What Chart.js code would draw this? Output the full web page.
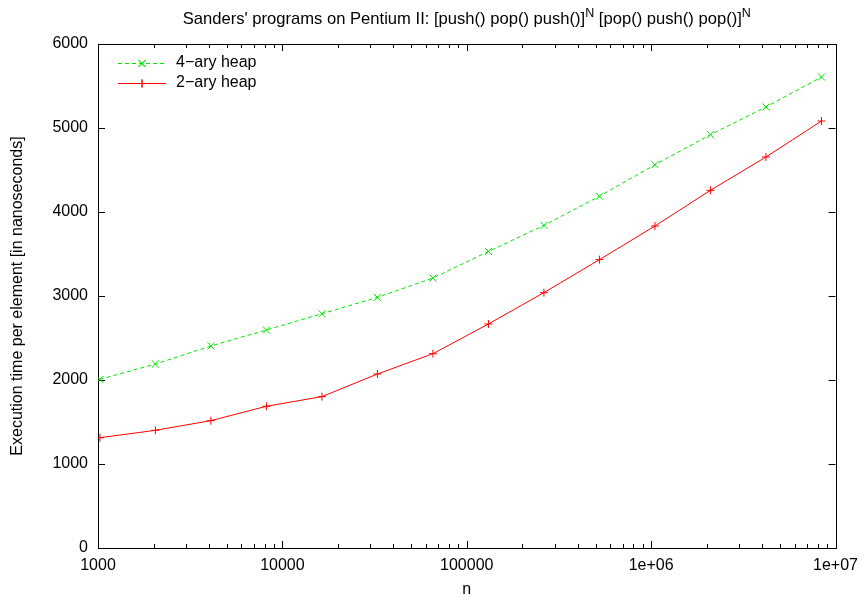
<!DOCTYPE html>
<html>
<head>
<meta charset="utf-8">
<title>Sanders' programs on Pentium II</title>
<script src="https://cdn.jsdelivr.net/npm/chart.js@4/dist/chart.umd.min.js"></script>
<style>
  html, body { margin: 0; padding: 0; background: #fff; }
  canvas { display: block; }
</style>
</head>
<body>
<canvas id="heapChart" width="866" height="603"></canvas>
<script>
// problem sizes n (powers of two from 1024)
const nValues = [1024, 2048, 4096, 8192, 16384, 32768, 65536, 131072, 262144, 524288, 1048576, 2097152, 4194304, 8388608];
// execution time per element in ns
const fourAryHeap = [2008, 2190, 2405, 2595, 2789, 2984, 3214, 3530, 3841, 4187, 4563, 4921, 5250, 5607];
const twoAryHeap = [1313, 1401, 1516, 1687, 1802, 2071, 2313, 2667, 3040, 3433, 3833, 4258, 4655, 5083];

const xMajorTicks = [1000, 10000, 100000, 1000000, 10000000];
const xTickLabels = ['1000', '10000', '100000', '1e+06', '1e+07'];
const yTickValues = [0, 1000, 2000, 3000, 4000, 5000, 6000];

const titleParts = [
    { text: "Sanders' programs on Pentium II: [push() pop() push()]", sup: false },
    { text: 'N', sup: true },
    { text: ' [pop() push() pop()]', sup: false },
    { text: 'N', sup: true }
];
const yAxisTitle = 'Execution time per element [in nanoseconds]';
const xAxisTitle = 'n';
const seriesNames = ['4\u2212ary heap', '2\u2212ary heap'];

const FONT = '"Liberation Sans", Arial, Helvetica, sans-serif';
const GREEN = '#00e600';
const RED = '#ff0000';

// gnuplot-like frame, inward ticks, titles and key
const gnuplotDecor = {
    id: 'gnuplotDecor',
    beforeDatasetsDraw(chart) {
        const { ctx, chartArea: a, scales } = chart;
        const xs = scales.x, ys = scales.y;
        ctx.save();
        ctx.strokeStyle = '#000';
        ctx.lineWidth = 1;
        ctx.beginPath();
        // y major ticks, left and right
        yTickValues.forEach(v => {
            const py = Math.round(ys.getPixelForValue(v)) + 0.5;
            ctx.moveTo(a.left, py); ctx.lineTo(a.left + 7, py);
            ctx.moveTo(a.right, py); ctx.lineTo(a.right - 7, py);
        });
        // x major and minor ticks, bottom and top
        xMajorTicks.forEach((d, i) => {
            const px = Math.round(xs.getPixelForValue(d)) + 0.5;
            ctx.moveTo(px, a.bottom); ctx.lineTo(px, a.bottom - 7);
            ctx.moveTo(px, a.top); ctx.lineTo(px, a.top + 7);
            if (i < xMajorTicks.length - 1) {
                for (let k = 2; k <= 9; k++) {
                    const mx = Math.round(xs.getPixelForValue(k * d)) + 0.5;
                    ctx.moveTo(mx, a.bottom); ctx.lineTo(mx, a.bottom - 4);
                    ctx.moveTo(mx, a.top); ctx.lineTo(mx, a.top + 4);
                }
            }
        });
        ctx.stroke();
        ctx.strokeRect(Math.round(a.left) + 0.5, Math.round(a.top) + 0.5,
            Math.round(a.right - a.left), Math.round(a.bottom - a.top));
        ctx.restore();
    },
    afterDraw(chart) {
        const { ctx, chartArea: a } = chart;
        ctx.save();
        ctx.fillStyle = '#000';

        // title with superscripts
        const mainFont = '16.6px ' + FONT;
        const supFont = '12.5px ' + FONT;
        let total = 0;
        titleParts.forEach(p => {
            ctx.font = p.sup ? supFont : mainFont;
            p.w = ctx.measureText(p.text).width;
            total += p.w;
        });
        let tx = (a.left + a.right) / 2 - total / 2;
        ctx.textBaseline = 'alphabetic';
        ctx.textAlign = 'left';
        titleParts.forEach(p => {
            ctx.font = p.sup ? supFont : mainFont;
            ctx.fillText(p.text, tx, p.sup ? 17 : 24);
            tx += p.w;
        });

        // axis titles
        ctx.font = '16px ' + FONT;
        ctx.textAlign = 'center';
        ctx.textBaseline = 'middle';
        ctx.fillText(xAxisTitle, (a.left + a.right) / 2, 590);
        ctx.translate(18, (a.top + a.bottom) / 2);
        ctx.rotate(-Math.PI / 2);
        ctx.fillText(yAxisTitle, 0, 0);
        ctx.setTransform(1, 0, 0, 1, 0, 0);

        // key
        const colors = [GREEN, RED];
        const dashes = [[4, 3], []];
        const styles = ['crossRot', 'cross'];
        const radii = [5, 4];
        seriesNames.forEach((name, i) => {
            const ky = 63 + i * 20;
            ctx.strokeStyle = colors[i];
            ctx.lineWidth = 1;
            ctx.setLineDash(dashes[i]);
            ctx.beginPath();
            ctx.moveTo(118, ky + 0.5); ctx.lineTo(166, ky + 0.5);
            ctx.stroke();
            ctx.setLineDash([]);
            Chart.helpers.drawPoint(ctx, {
                pointStyle: styles[i], radius: radii[i], borderWidth: 1, rotation: 0
            }, 142, ky + 0.5);
            ctx.stroke();
            ctx.fillStyle = '#000';
            ctx.textAlign = 'left';
            ctx.fillText(name, 176, ky);
        });
        ctx.restore();
    }
};

const ctxHeap = document.getElementById('heapChart').getContext('2d');
new Chart(ctxHeap, {
    type: 'line',
    data: {
        datasets: [{
            label: seriesNames[0],
            data: nValues.map((n, i) => ({ x: n, y: fourAryHeap[i] })),
            borderColor: GREEN,
            backgroundColor: GREEN,
            borderWidth: 1,
            borderDash: [4, 3],
            pointStyle: 'crossRot',
            pointRadius: 5,
            pointBorderWidth: 1,
            tension: 0
        }, {
            label: seriesNames[1],
            data: nValues.map((n, i) => ({ x: n, y: twoAryHeap[i] })),
            borderColor: RED,
            backgroundColor: RED,
            borderWidth: 1,
            pointStyle: 'cross',
            pointRadius: 4,
            pointBorderWidth: 1,
            tension: 0
        }]
    },
    options: {
        responsive: false,
        animation: false,
        devicePixelRatio: 1,
        layout: { padding: { top: 44, right: 29, left: 0, bottom: 0 } },
        plugins: {
            legend: { display: false },
            title: { display: false },
            tooltip: { enabled: false }
        },
        scales: {
            x: {
                type: 'logarithmic',
                min: 1000,
                max: 10000000,
                grid: { display: false, drawTicks: false },
                border: { display: false },
                afterBuildTicks: scale => {
                    scale.ticks = xMajorTicks.map(v => ({ value: v }));
                },
                afterFit: scale => { scale.height = 55; },
                ticks: {
                    autoSkip: false,
                    maxRotation: 0,
                    padding: 8,
                    color: '#000',
                    font: { family: FONT, size: 16 },
                    callback: v => xTickLabels[xMajorTicks.indexOf(v)]
                }
            },
            y: {
                min: 0,
                max: 6000,
                grid: { display: false, drawTicks: false },
                border: { display: false },
                afterFit: scale => { scale.width = 98; },
                ticks: {
                    stepSize: 1000,
                    padding: 10,
                    color: '#000',
                    font: { family: FONT, size: 16 },
                    callback: v => String(v)
                }
            }
        }
    },
    plugins: [gnuplotDecor]
});
</script>
</body>
</html>
